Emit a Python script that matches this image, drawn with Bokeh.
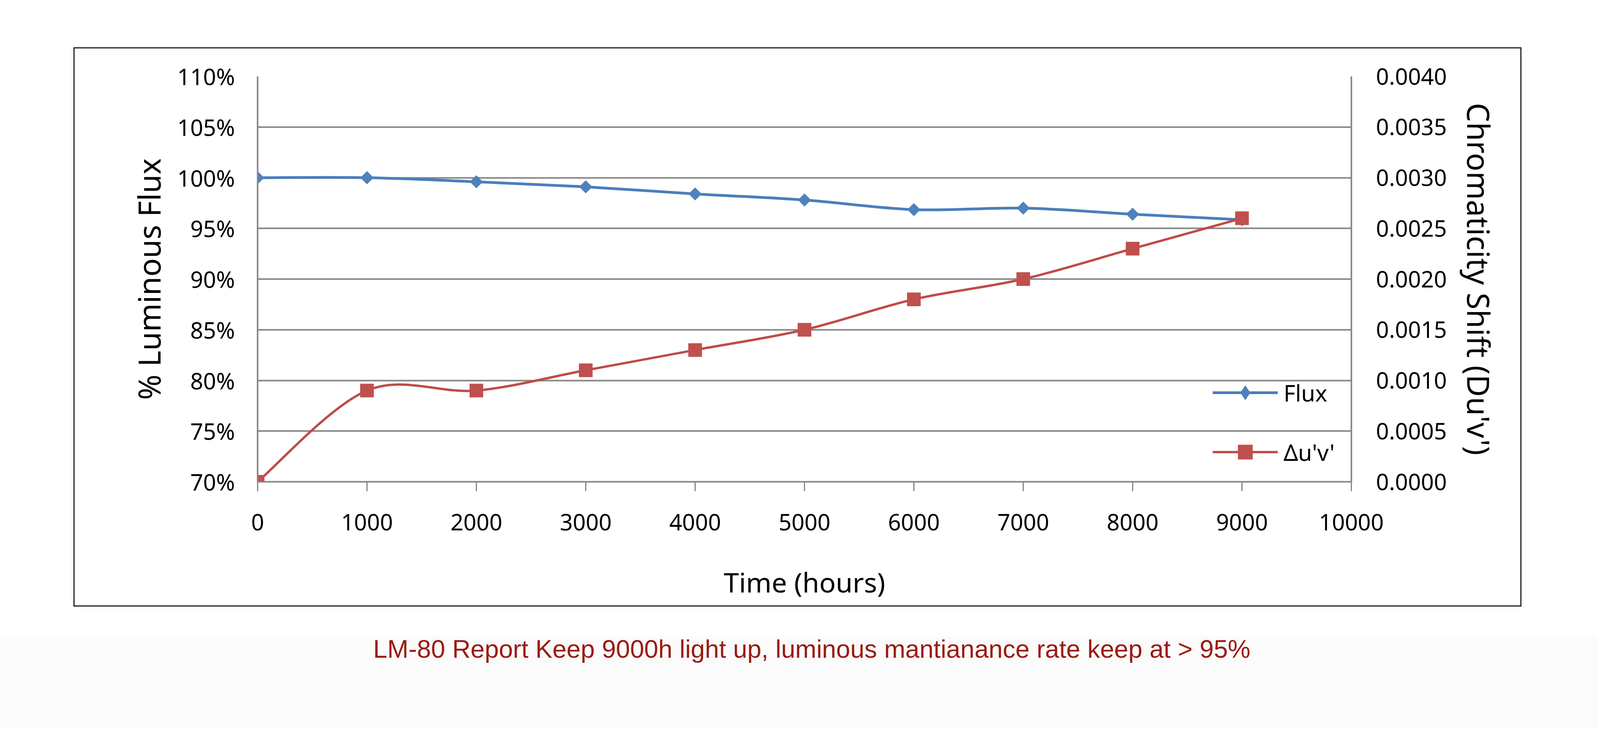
import numpy as np
from bokeh.plotting import figure
from bokeh.layouts import column, row
from bokeh.models import (Range1d, LinearAxis, FixedTicker, PrintfTickFormatter,
                          Legend, LegendItem, Label, Spacer, BoxAnnotation)
from bokeh.embed import file_html
from bokeh.resources import INLINE

# ---------------- data ----------------
hours = [0, 1000, 2000, 3000, 4000, 5000, 6000, 7000, 8000, 9000]
flux_pct = [100.0, 100.0, 99.6, 99.1, 98.4, 97.8, 96.85, 97.0, 96.4, 95.85]
chroma_shift = [0.0000, 0.0009, 0.0009, 0.0011, 0.0013, 0.0015, 0.0018, 0.0020, 0.0023, 0.0026]
x_ticks = [0, 1000, 2000, 3000, 4000, 5000, 6000, 7000, 8000, 9000, 10000]
left_ticks = [70, 75, 80, 85, 90, 95, 100, 105, 110]
right_ticks = [0.0, 0.0005, 0.0010, 0.0015, 0.0020, 0.0025, 0.0030, 0.0035, 0.0040]
series_names = ["Flux", "\u0394u'v'"]
x_title = "Time (hours)"
left_title = "% Luminous Flux"
right_title = "Chromaticity Shift (Du'v')"
caption = "LM-80 Report Keep 9000h light up, luminous mantianance rate keep at > 95%"

# ---------------- layout constants ----------------
PAGE_W = 4090
CW, CH = 3701, 1426                  # chart box (inside border)
BW = 3                               # border width
ML, MR, MT, MB = 468, 433, 71, 317   # frame offsets inside chart box
XMIN, XMAX = 0, 10000
YMIN, YMAX = 70, 110
Y2MIN, Y2MAX = 0.0, 0.004

GRID = "#868686"
BORDER = "#222222"
BLUE_LINE, BLUE = "#4a7ebb", "#4f81bd"
RED_LINE, RED = "#be4b48", "#c0504d"
FONT = "Noto Sans"
TICK_FS = "58px"


def smooth_segments(xs, ys):
    """Catmull-Rom style control points (Excel 'smoothed line')."""
    x = np.asarray(xs, float)
    y = np.asarray(ys, float)
    n = len(x)
    xp = np.concatenate([[x[0]], x, [x[-1]]])
    yp = np.concatenate([[y[0]], y, [y[-1]]])
    cx0 = x[:-1] + (xp[2:n + 1] - xp[0:n - 1]) / 6.0
    cy0 = y[:-1] + (yp[2:n + 1] - yp[0:n - 1]) / 6.0
    cx1 = x[1:] - (xp[3:n + 2] - xp[1:n]) / 6.0
    cy1 = y[1:] - (yp[3:n + 2] - yp[1:n]) / 6.0
    return dict(x0=x[:-1], y0=y[:-1], x1=x[1:], y1=y[1:],
                cx0=cx0, cy0=cy0, cx1=cx1, cy1=cy1)


def style_axis(ax, title, title_fs, label_standoff, title_standoff):
    ax.axis_line_color = GRID
    ax.axis_line_width = 4
    ax.minor_tick_line_color = None
    ax.major_label_text_font = FONT
    ax.major_label_text_font_size = TICK_FS
    ax.major_label_text_color = "black"
    ax.major_label_standoff = label_standoff
    ax.axis_label = title
    ax.axis_label_text_font = FONT
    ax.axis_label_text_font_size = title_fs
    ax.axis_label_text_font_style = "normal"
    ax.axis_label_text_color = "black"
    ax.axis_label_standoff = title_standoff


p = figure(width=CW, height=CH,
           x_range=Range1d(XMIN, XMAX), y_range=Range1d(YMIN, YMAX),
           output_backend="svg", toolbar_location=None,
           min_border_left=ML, min_border_right=MR,
           min_border_top=MT, min_border_bottom=MB,
           outline_line_color=None,
           background_fill_color="white", border_fill_color="white")
p.extra_y_ranges = {"chrom": Range1d(Y2MIN, Y2MAX)}

p.xgrid.visible = False
p.ygrid.ticker = FixedTicker(ticks=left_ticks)
p.ygrid.grid_line_color = GRID
p.ygrid.grid_line_width = 4

xa = p.xaxis[0]
xa.ticker = FixedTicker(ticks=x_ticks)
style_axis(xa, x_title, "70px", 58, 81)
xa.major_tick_line_color = GRID
xa.major_tick_line_width = 3
xa.major_tick_out = 24
xa.major_tick_in = 0

ya = p.yaxis[0]
ya.ticker = FixedTicker(ticks=left_ticks)
ya.formatter = PrintfTickFormatter(format="%d%%")
style_axis(ya, left_title, "78px", 58, 17)
ya.major_tick_out = 0
ya.major_tick_in = 0

ra = LinearAxis(y_range_name="chrom")
ra.ticker = FixedTicker(ticks=right_ticks)
ra.formatter = PrintfTickFormatter(format="%.4f")
style_axis(ra, right_title, "78px", 63, 26)
ra.major_tick_out = 0
ra.major_tick_in = 0
p.add_layout(ra, "right")

# series
fs = smooth_segments(hours, flux_pct)
cs = smooth_segments(hours, chroma_shift)

r_flux_line = p.bezier(x0=fs["x0"], y0=fs["y0"], x1=fs["x1"], y1=fs["y1"],
                       cx0=fs["cx0"], cy0=fs["cy0"], cx1=fs["cx1"], cy1=fs["cy1"],
                       line_color=BLUE_LINE, line_width=7)
r_flux_pts = p.scatter(hours, flux_pct, marker="square", angle=np.pi / 4, size=23,
                       fill_color=BLUE, line_color=BLUE)
r_flux_leg = p.scatter(hours, flux_pct, marker="diamond", size=34,
                       fill_color=BLUE, line_color=BLUE, visible=False)

r_ch_line = p.bezier(x0=cs["x0"], y0=cs["y0"], x1=cs["x1"], y1=cs["y1"],
                     cx0=cs["cx0"], cy0=cs["cy0"], cx1=cs["cx1"], cy1=cs["cy1"],
                     line_color=RED_LINE, line_width=6, y_range_name="chrom")
r_ch_pts = p.scatter(hours, chroma_shift, marker="square", size=34,
                     fill_color=RED, line_color=RED, y_range_name="chrom")


def make_legend(label, renderers, loc):
    return Legend(items=[LegendItem(label=label, renderers=renderers)],
                  location=loc, glyph_width=167, glyph_height=92,
                  label_standoff=15, padding=10, margin=0,
                  border_line_alpha=0, background_fill_alpha=0,
                  label_text_font=FONT, label_text_font_size=TICK_FS,
                  label_text_color="black")


p.add_layout(make_legend(series_names[0], [r_flux_line, r_flux_leg], (2435, 172)))
p.add_layout(make_legend(series_names[1], [r_ch_line, r_ch_pts], (2435, 20)))

# chart border built from thin bars
def bar(w, h):
    return Spacer(width=w, height=h, styles={"background-color": BORDER})


boxed = column(bar(CW + 2 * BW, BW),
               row(bar(BW, CH), p, bar(BW, CH)),
               bar(CW + 2 * BW, BW))

# caption strip: white on top, light grey band below
CAP_H = 310
BAND_TOP = 238 / CAP_H
cap = figure(width=PAGE_W, height=CAP_H, x_range=Range1d(0, 1), y_range=Range1d(0, 1),
             output_backend="svg", toolbar_location=None,
             x_axis_location=None, y_axis_location=None,
             min_border=0, min_border_left=0, min_border_right=0,
             min_border_top=0, min_border_bottom=0,
             outline_line_color=None,
             background_fill_color="white", border_fill_color="white")
cap.grid.visible = False
cap.add_layout(BoxAnnotation(left=0, right=1, bottom=0, top=BAND_TOP,
                             fill_color="#fbfbfb", fill_alpha=1, line_alpha=0,
                             level="underlay"))
cap.add_layout(Label(x=0.508, y=205 / CAP_H, text=caption, text_align="center",
                     text_baseline="alphabetic", text_font="Liberation Sans",
                     text_font_size="65px", text_color="#9a1b12"))

layout = column(Spacer(width=PAGE_W, height=121),
                row(Spacer(width=188, height=CH + 2 * BW), boxed),
                Spacer(width=PAGE_W, height=3),
                cap)

open("out.html", "w").write(file_html(layout, INLINE))
